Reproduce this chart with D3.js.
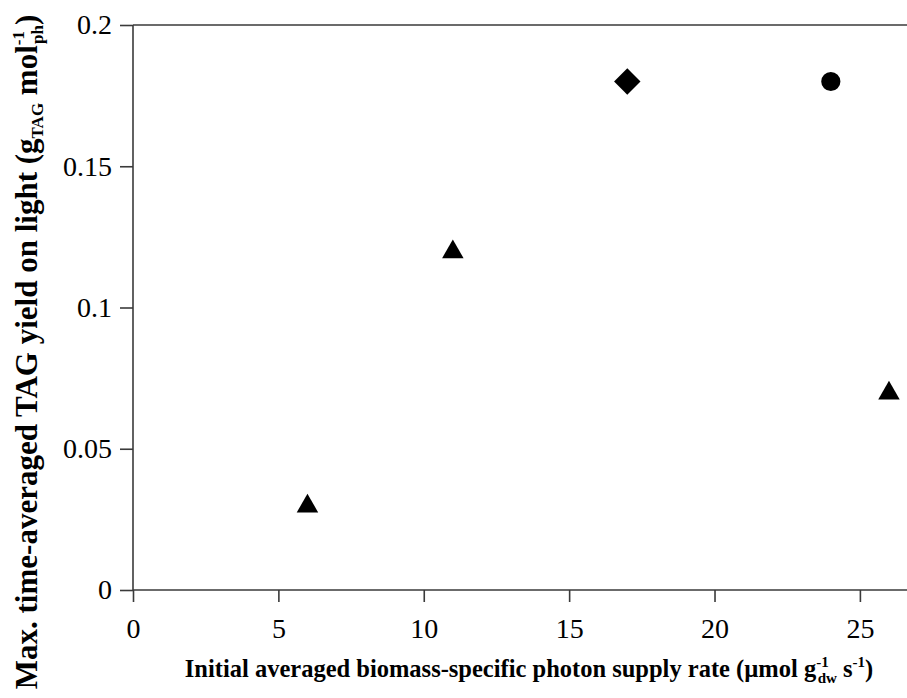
<!DOCTYPE html>
<html><head><meta charset="utf-8">
<script src="https://cdn.jsdelivr.net/npm/d3@7"></script>
<style>body{margin:0;background:#fff}svg{display:block}
svg text{font-family:"Liberation Serif","Tinos","Times New Roman","DejaVu Serif",serif;}</style>
</head><body>
<script>
const xValues = [6, 11, 17, 24, 26];
const yValues = [0.03, 0.12, 0.18, 0.18, 0.07];
const shapes = ["triangle", "triangle", "diamond", "circle", "triangle"];
const xTicks = [0, 5, 10, 15, 20, 25];
const yTicks = [0, 0.05, 0.1, 0.15, 0.2];
const yTickLabels = ["0", "0.05", "0.1", "0.15", "0.2"];

const W = 907, H = 698;
const svg = d3.select("body").append("svg").attr("width", W).attr("height", H);
const x = d3.scaleLinear().domain([0, 26.62]).range([133, 907]);
const y = d3.scaleLinear().domain([0, 0.2]).range([590, 25]);
const axisColor = "#3a3a3a";

const xa = svg.append("g").attr("transform", "translate(0,590)")
  .call(d3.axisBottom(x).tickValues(xTicks).tickSize(12).tickPadding(16).tickFormat(d3.format("d")));
const ya = svg.append("g").attr("transform", "translate(133,0)")
  .call(d3.axisLeft(y).tickValues(yTicks).tickSize(13).tickPadding(8).tickFormat((d,i)=>yTickLabels[i]));
[xa, ya].forEach(g => {
  g.attr("font-family", null);
  g.select(".domain").remove();
  g.selectAll("line").attr("stroke", axisColor).attr("stroke-width", 1.6);
  g.selectAll("text").attr("font-size", 28).attr("fill", "#000");
});
svg.append("line").attr("x1", x(0)).attr("x2", W).attr("y1", y(0)).attr("y2", y(0)).attr("stroke", axisColor).attr("stroke-width", 1.6);
svg.append("line").attr("x1", x(0)).attr("x2", x(0)).attr("y1", y(0.2)).attr("y2", y(0)).attr("stroke", axisColor).attr("stroke-width", 1.6);
svg.append("line").attr("x1", x(0)).attr("x2", W).attr("y1", y(0.2)).attr("y2", y(0.2)).attr("stroke", axisColor).attr("stroke-width", 1.6);

const sym = {
  triangle: d3.symbol().type(d3.symbolTriangle).size(200),
  diamond: d3.symbol().type(d3.symbolSquare).size(350),
  circle: d3.symbol().type(d3.symbolCircle).size(290)
};
svg.append("g").selectAll("path").data(xValues.map((v,i)=>({x:v,y:yValues[i],s:shapes[i]})))
  .join("path")
  .attr("d", d => sym[d.s]())
  .attr("transform", d => `translate(${x(d.x)},${y(d.y) + (d.s==="triangle"?1:0)})` + (d.s==="diamond" ? " rotate(45)" : ""))
  .attr("fill", "#000");

const xt = svg.append("text").attr("x", 529).attr("y", 677).attr("text-anchor", "middle")
  .attr("font-weight", "bold").attr("font-size", 24.5).attr("fill", "#000");
xt.append("tspan").text("Initial averaged biomass-specific photon supply rate (µmol g");
xt.append("tspan").attr("font-size", 15).attr("dy", -10).text("-1");
xt.append("tspan").attr("font-size", 15).attr("dx", -11).attr("dy", 16).text("dw");
xt.append("tspan").attr("dy", -6).text(" s");
xt.append("tspan").attr("font-size", 15).attr("dy", -10).text("-1");
xt.append("tspan").attr("dy", 10).text(")");

const yt = svg.append("text").attr("transform", "translate(37,352) rotate(-90)").attr("text-anchor", "middle")
  .attr("font-weight", "bold").attr("font-size", 31).attr("fill", "#000");
yt.append("tspan").text("Max. time-averaged TAG yield on light (g");
yt.append("tspan").attr("font-size", 17).attr("dy", 6).text("TAG");
yt.append("tspan").attr("dy", -6).text(" mol");
yt.append("tspan").attr("font-size", 17).attr("dy", -13).text("-1");
yt.append("tspan").attr("font-size", 17).attr("dx", -13).attr("dy", 19).text("ph");
yt.append("tspan").attr("dy", -6).text(")");
</script>
</body></html>
